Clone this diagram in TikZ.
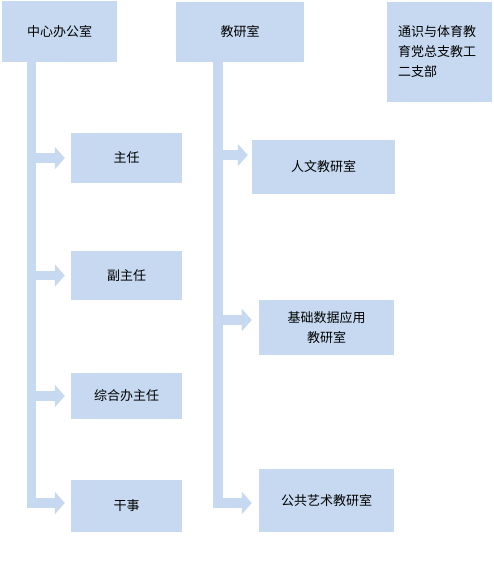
\documentclass[tikz,border=0pt]{standalone}
\usepackage{fontspec}
\newfontfamily\cjk{Noto Sans CJK SC}
\usepackage{xcolor}
\usepackage{tikz}
\usetikzlibrary{positioning, arrows.meta, calc}
\definecolor{boxblue}{RGB}{198,217,240}

\begin{document}
\begin{tikzpicture}[x=1pt, y=-1pt, every node/.style={fill=boxblue, inner sep=0pt, align=center, font=\cjk\fontsize{13}{20}\selectfont},
  bar/.style={draw=boxblue, line width=9.5pt, line cap=butt, line join=miter, -{Triangle[length=10pt, width=22pt]}}]
\useasboundingbox (0,0) rectangle (494,577);

% Top row: departments
\node[minimum width=115pt, minimum height=61pt] (zhongxin) at (59.5, 31.5) {中心办公室};
\node[minimum width=128pt, minimum height=60pt] (jiaoyan) at (240, 32) {教研室};
\node[minimum width=105pt, minimum height=100pt, text width=83pt, align=left] (zhibu) at (439.5, 52) {通识与体育教\\育党总支教工\\二支部};

% Office posts
\node[minimum width=111pt, minimum height=50pt] (zhuren) at (126.5, 158) {主任};
\node[minimum width=111pt, minimum height=49pt] (fuzhuren) at (126.5, 275.5) {副主任};
\node[minimum width=111pt, minimum height=46pt] (zonghe) at (126.5, 396) {综合办主任};
\node[minimum width=111pt, minimum height=52pt] (ganshi) at (126.5, 506) {干事};

% Teaching sections
\node[minimum width=143pt, minimum height=54pt] (renwen) at (323.5, 167) {人文教研室};
\node[minimum width=135pt, minimum height=55pt] (jichu) at (326.5, 327.5) {基础数据应用\\教研室};
\node[minimum width=135pt, minimum height=63pt] (gonggong) at (326.5, 500.5) {公共艺术教研室};

% Bars from the office
\draw[bar, shorten >=6pt] ([xshift=29.5pt]zhongxin.south west) |- (zhuren.west);
\draw[bar, shorten >=6pt] ([xshift=29.5pt]zhongxin.south west) |- (fuzhuren.west);
\draw[bar, shorten >=6pt] ([xshift=29.5pt]zhongxin.south west) |- (zonghe.west);
\draw[bar, shorten >=6pt] ([xshift=29.5pt]zhongxin.south west) |- ([yshift=3pt]ganshi.west);

% Bars from the teaching office
\draw[bar, shorten >=4pt] ([xshift=42pt]jiaoyan.south west) |- ([yshift=12pt]renwen.west);
\draw[bar, shorten >=7pt] ([xshift=42pt]jiaoyan.south west) |- ([yshift=7.5pt]jichu.west);
\draw[bar, shorten >=7pt] ([xshift=42pt]jiaoyan.south west) |- ([yshift=-2.5pt]gonggong.west);

\end{tikzpicture}
\end{document}
